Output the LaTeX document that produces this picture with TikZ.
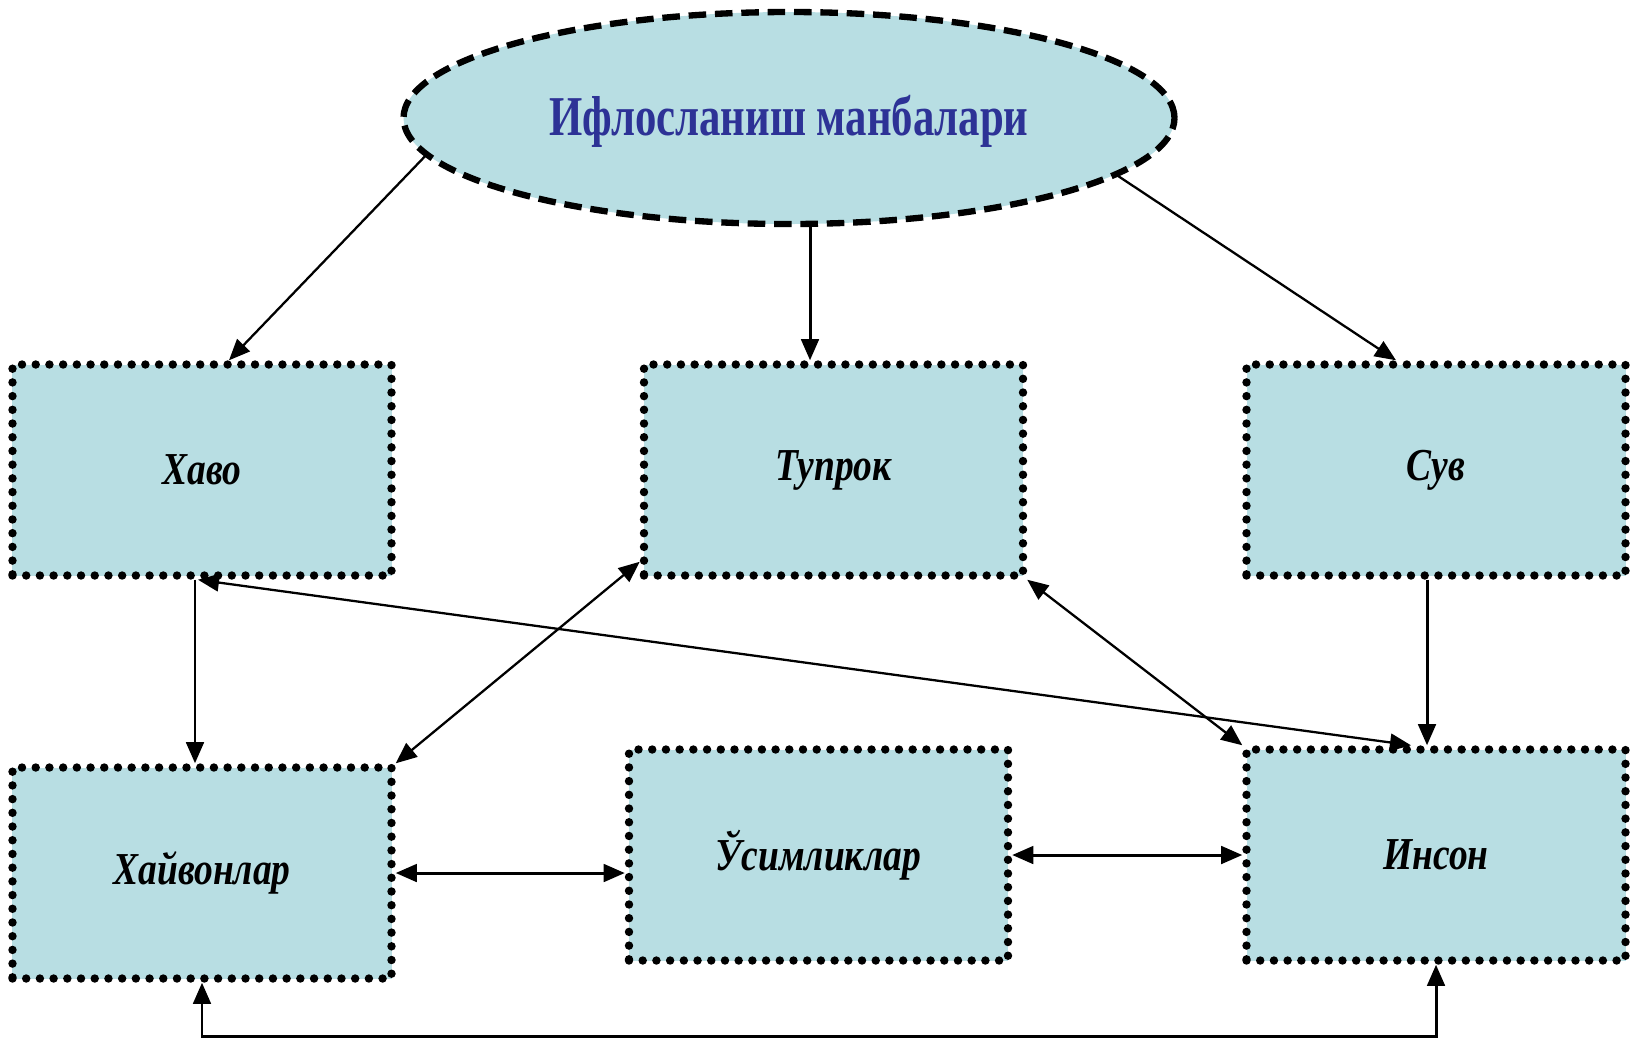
\documentclass[tikz,border=0pt]{standalone}
\usepackage{fontspec}
\setmainfont{Liberation Serif}
\newfontfamily\headfont[FakeStretch=0.76]{Liberation Serif}
\newfontfamily\boxfont[FakeStretch=0.82]{Liberation Serif}
\usepackage{xcolor}
\usetikzlibrary{shapes.geometric, arrows.meta, positioning, calc}

\definecolor{boxfill}{RGB}{184,222,227}
\definecolor{headblue}{RGB}{45,50,150}

\begin{document}
\begin{tikzpicture}[
    topic/.style={ellipse, draw, fill=boxfill, line width=3.6pt, dash pattern=on 10pt off 5pt, minimum width=15.42cm, minimum height=4.24cm, inner sep=0pt, font=\headfont\fontsize{32}{36}\selectfont\bfseries, text=headblue},
    box/.style={draw, fill=boxfill, line width=4.8pt, line cap=round, dash pattern=on 0pt off 7.8pt, minimum width=7.58cm, minimum height=4.22cm, inner sep=0pt, font=\boxfont\fontsize{26}{30}\selectfont\bfseries\itshape},
    arr/.style={-{Triangle[length=12pt, width=10pt]}, line width=1.3pt},
    biarr/.style={{Triangle[length=12pt, width=10pt]}-{Triangle[length=12pt, width=10pt]}, line width=1.3pt},
]
\useasboundingbox (0,0) rectangle (32.66,-20.74);

% Source
\node[topic] (src) at (15.78,-2.36) {};
\node[font=\headfont\fontsize{32}{36}\selectfont\bfseries, text=headblue] (srctext) at (15.78,-2.42) {Ифлосланиш манбалари};

% Upper row
\node[box] (havo) at (4.04,-9.40) {Хаво};
\node[box] (tuproq) at (16.67,-9.40) {Тупрок};
\node[box] (suv) at (28.72,-9.40) {Сув};

% Lower row
\node[box] (hayvon) at (4.04,-17.46) {Хайвонлар};
\node[box] (osimlik) at (16.37,-17.10) {Ўсимликлар};
\node[box] (inson) at (28.72,-17.10) {Инсон};

% Arrows from source
\draw[arr] (src.186) -- ([xshift=0.54cm]havo.north);
\draw[arr, line width=1.7pt] ([xshift=0.42cm]src.south) -- ([xshift=0.42cm]src.south |- tuproq.north);
\draw[arr] (src.350) -- ([xshift=-0.8cm]suv.north);

% Arrows between boxes
\draw[arr, line width=1.7pt] ([xshift=-0.14cm]havo.south) -- ([xshift=-0.14cm]havo.south |- hayvon.north);
\draw[arr, line width=1.7pt] ([xshift=-0.18cm]suv.south) -- ([xshift=-0.18cm]suv.south |- inson.north);
\draw[biarr] ([xshift=-0.08cm]havo.south) -- ([xshift=-0.5cm]inson.north);
\draw[biarr] ([yshift=0.36cm]tuproq.south west) -- (hayvon.north east);
\draw[biarr] (tuproq.south east) -- (inson.north west);
\draw[biarr, line width=1.7pt] (hayvon.east) -- (hayvon.east -| osimlik.west);
\draw[biarr, line width=1.7pt] (osimlik.east) -- (inson.west);
\draw[biarr, line width=1.7pt] (hayvon.south) -- ++(0,-1.08) -| (inson.south);

\end{tikzpicture}
\end{document}
